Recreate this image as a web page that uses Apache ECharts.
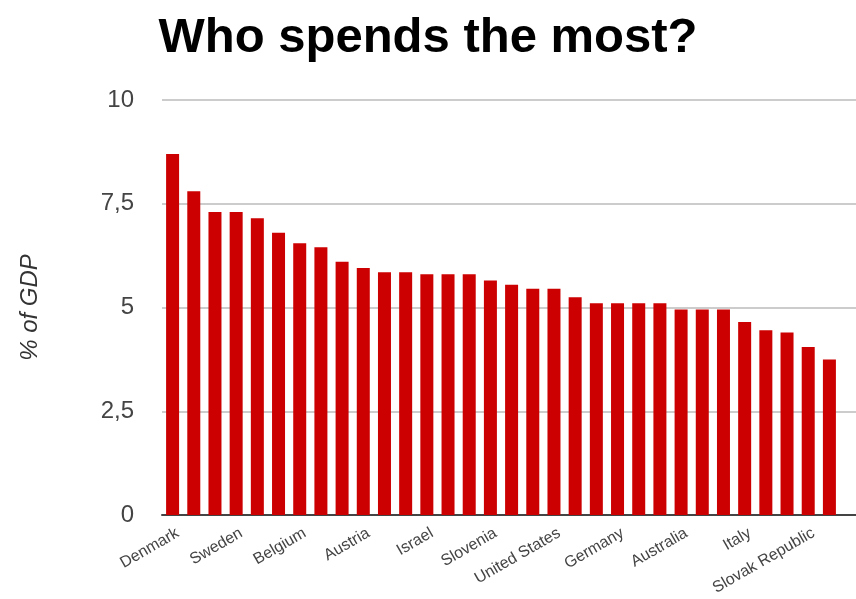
<!DOCTYPE html>
<html>
<head>
<meta charset="utf-8">
<script src="https://cdn.jsdelivr.net/npm/echarts@6/dist/echarts.min.js"></script>
<style>
html,body{margin:0;padding:0;background:#fff;}
#chart{width:856px;height:599px;}
</style>
</head>
<body>
<div id="chart"></div>
<script>
// Category labels (only every third bar is labelled in the reference)
const categories = [
  "Denmark", "", "", "Sweden", "", "", "Belgium", "", "", "Austria", "", "",
  "Israel", "", "", "Slovenia", "", "", "United States", "", "", "Germany", "", "",
  "Australia", "", "", "Italy", "", "", "Slovak Republic", ""
];
// Spending, % of GDP
const values = [
  8.7, 7.8, 7.3, 7.3, 7.15, 6.8, 6.55, 6.45, 6.1, 5.95, 5.85, 5.85,
  5.8, 5.8, 5.8, 5.65, 5.55, 5.45, 5.45, 5.25, 5.1, 5.1, 5.1, 5.1,
  4.95, 4.95, 4.95, 4.65, 4.45, 4.4, 4.05, 3.75
];
const yTicks = [0, 2.5, 5, 7.5, 10];
const yMin = yTicks[0], yMax = yTicks[yTicks.length - 1], yStep = yTicks[1] - yTicks[0];

const FONT = '"Liberation Sans", Arial, sans-serif';
const chart = echarts.init(document.getElementById('chart'), null, {renderer: 'canvas'});
chart.setOption({
  animation: false,
  backgroundColor: '#ffffff',
  title: {
    text: 'Who spends the most?',
    left: 'center',
    top: 9,
    textStyle: {fontFamily: FONT, fontSize: 49, fontWeight: 'bold', color: '#000'}
  },
  grid: [
    {left: 162, top: 100, width: 678, height: 415, containLabel: false},
    {left: 162, top: 100, right: 0, height: 415, containLabel: false}
  ],
  xAxis: [
    {
      type: 'category', gridIndex: 0, data: categories,
      axisLine: {show: false}, axisTick: {show: false},
      axisLabel: {
        interval: 0, rotate: 30, margin: 20,
        fontFamily: FONT, fontSize: 16, color: '#444',
        padding: [0, -6, 0, 0]
      }
    },
    {
      type: 'value', gridIndex: 1, min: 0, max: 1,
      axisLine: {show: true, onZero: false, lineStyle: {color: '#444', width: 2}},
      axisTick: {show: false}, axisLabel: {show: false}, splitLine: {show: false}
    }
  ],
  yAxis: [
    {
      type: 'value', gridIndex: 0, min: yMin, max: yMax, interval: yStep,
      show: false, splitLine: {show: false}
    },
    {
      type: 'value', gridIndex: 1, min: yMin, max: yMax, interval: yStep,
      axisLine: {show: false}, axisTick: {show: false},
      axisLabel: {
        margin: 28, fontFamily: FONT, fontSize: 24, color: '#444',
        formatter: v => String(v).replace('.', ',')
      },
      splitLine: {show: true, lineStyle: {color: '#cccccc', width: 2}},
      name: '% of GDP',
      nameLocation: 'middle',
      nameGap: 120,
      nameRotate: 90,
      nameTextStyle: {fontFamily: FONT, fontSize: 24, fontStyle: 'italic', color: '#333'}
    }
  ],
  series: [
    {
      type: 'bar', xAxisIndex: 0, yAxisIndex: 0,
      data: values, barWidth: 13,
      itemStyle: {color: '#cc0000'},
      z: 3
    }
  ]
});
</script>
</body>
</html>
